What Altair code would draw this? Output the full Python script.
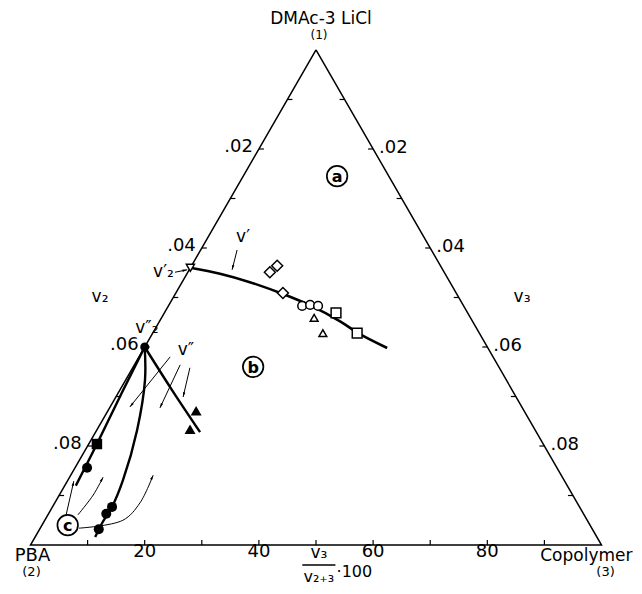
import math
import altair as alt
import pandas as pd

# ---------------- values ----------------
# composition coordinates: pct = v3/(v2+v3)*100 (bottom scale), tot = v2+v3 (side scales)
bin1_pct = [0.0, 12.8, 25.3, 38.3, 48.0, 57.7, 62.9, 70.7]                 # binodal v'
bin1_tot = [0.0440, 0.0452, 0.0469, 0.0493, 0.0516, 0.0548, 0.0572, 0.0602]
bin2_pct = [0.0, 13.3, 23.7]                                              # binodal v''
bin2_tot = [0.0600, 0.0687, 0.0772]
lineA_pct = [0.0, 0.9, 1.8, 2.2]
lineA_tot = [0.0600, 0.0693, 0.0796, 0.0880]
lineB_pct = [0.0, 5.1, 9.2, 11.1, 11.3, 10.8, 10.7]
lineB_tot = [0.0600, 0.0667, 0.0768, 0.0869, 0.0923, 0.0956, 0.0984]

open_diamond_pct = [32.0, 34.4, 38.2]
open_diamond_tot = [0.0449, 0.0436, 0.0491]
open_circle_pct = [45.3, 48.0, 50.7]
open_circle_tot = [0.0517, 0.0515, 0.0517]
open_triangle_pct = [49.4, 52.1]
open_triangle_tot = [0.0541, 0.0572]
open_square_pct = [56.6, 62.6]
open_square_tot = [0.0531, 0.0572]
filled_triangle_pct = [21.2, 21.2]
filled_triangle_tot = [0.0729, 0.0766]
filled_square_pct = [1.8]
filled_square_tot = [0.0796]
filled_circle_pct = [2.5, 11.3, 10.8, 10.7]
filled_circle_tot = [0.0844, 0.0923, 0.0937, 0.0968]
v2p_pct, v2p_tot = [0.0], [0.0440]      # v2'
v2pp_pct, v2pp_tot = [0.0], [0.0600]    # v2''

# arrows (tail ... head)
arrow_v1 = ([15.8, 16.9], [0.0404, 0.0444])
arrow_v2p = ([-5.0, -0.8], [0.0449, 0.0444])
arrow_v2a = ([8.8, 4.8], [0.0620, 0.0721])
arrow_v2b = ([12.6, 12.2], [0.0636, 0.0723])
arrow_v2c = ([15.6, 16.8], [0.0642, 0.0701])
arrow_c1 = ([3.4, 1.3], [0.0939, 0.0871])
arrow_c2 = ([5.6, 6.6, 6.8], [0.0939, 0.0899, 0.0863])
arrow_c3 = ([7.0, 14.4, 16.3, 16.8], [0.0966, 0.0950, 0.0915, 0.0859])

side_ticks = [0.01, 0.02, 0.03, 0.04, 0.05, 0.06, 0.07, 0.08, 0.09]
side_labels = [".02", ".04", ".06", ".08"]
side_label_vals = [0.02, 0.04, 0.06, 0.08]
bottom_ticks = [10, 20, 30, 40, 50, 60, 70, 80, 90]
bottom_labels = ["20", "40", "60", "80"]
bottom_label_vals = [20, 40, 60, 80]

FONT = "DejaVu Sans"

# ---------------- frame ----------------
W, H = 626, 578
X_DOM = [-0.05394, 0.05569]
Y_DOM = [-0.10828, 0.00848]
KX = W / (X_DOM[1] - X_DOM[0])
KY = H / (Y_DOM[1] - Y_DOM[0])


def tern(pcts, tots, **cols):
    df = pd.DataFrame({"pct": list(pcts), "tot": list(tots)})
    df["X"] = df["tot"] * (df["pct"] / 100.0 - 0.5)
    df["Y"] = -df["tot"]
    df["i"] = range(len(df))
    for k, v in cols.items():
        df[k] = v
    return df


xs = alt.Scale(domain=X_DOM, nice=False, zero=False)
ys = alt.Scale(domain=Y_DOM, nice=False, zero=False)


def XE(f="X"):
    return alt.X(f + ":Q", scale=xs, axis=None)


def YE(f="Y"):
    return alt.Y(f + ":Q", scale=ys, axis=None)


layers = []

# triangle edges
edges = tern([50, 0, 100, 50], [0.0, 0.1, 0.1, 0.0])
layers.append(alt.Chart(edges).mark_line(color="black", strokeWidth=1.5).encode(
    x=XE(), y=YE(), order="i:Q"))

# ticks
lt = tern([0] * len(side_ticks), side_ticks)
lt["X2"] = lt["X"] + 5 / KX
lt["Y2"] = lt["Y"]
rt = tern([100] * len(side_ticks), side_ticks)
rt["X2"] = rt["X"] - 5 / KX
rt["Y2"] = rt["Y"]
bt = tern(bottom_ticks, [0.1] * len(bottom_ticks))
bt["X2"] = bt["X"]
bt["Y2"] = bt["Y"] + 5 / KY
ticks = pd.concat([lt, rt, bt], ignore_index=True)
layers.append(alt.Chart(ticks).mark_rule(color="black", strokeWidth=1.2).encode(
    x=XE(), y=YE(), x2="X2:Q", y2="Y2:Q"))

# phase boundary curves
for pc, tt, sw in [(bin1_pct, bin1_tot, 2.6), (bin2_pct, bin2_tot, 2.4),
                   (lineA_pct, lineA_tot, 2.4), (lineB_pct, lineB_tot, 2.4)]:
    layers.append(alt.Chart(tern(pc, tt)).mark_line(
        color="black", strokeWidth=sw, interpolate="catmull-rom").encode(
        x=XE(), y=YE(), order="i:Q"))

# arrows
arrows = [arrow_v1, arrow_v2p, arrow_v2a, arrow_v2b, arrow_v2c, arrow_c1, arrow_c2, arrow_c3]
adfs, heads = [], []
for k, (pc, tt) in enumerate(arrows):
    d = tern(pc, tt, aid=k)
    adfs.append(d)
    a, b = d.iloc[-2], d.iloc[-1]
    dxp = (b["X"] - a["X"]) * KX
    dyp = -(b["Y"] - a["Y"]) * KY
    ang = math.degrees(math.atan2(dxp, -dyp)) % 360
    heads.append({"X": b["X"], "Y": b["Y"], "ang": ang})
adf = pd.concat(adfs, ignore_index=True)
layers.append(alt.Chart(adf).mark_line(color="black", strokeWidth=1.0, interpolate="catmull-rom").encode(
    x=XE(), y=YE(), detail="aid:N", order="i:Q"))
layers.append(alt.Chart(pd.DataFrame(heads)).mark_point(
    shape="M0,0L-0.38,1.5L0.38,1.5Z", size=40, filled=True, color="black", opacity=1).encode(
    x=XE(), y=YE(), angle=alt.Angle("ang:Q", scale=None)))


def pts(pc, tt, shape, size, filled, sw=1.5):
    if filled:
        mk = alt.Chart(tern(pc, tt)).mark_point(shape=shape, size=size, filled=True,
                                                color="black", opacity=1)
    else:
        mk = alt.Chart(tern(pc, tt)).mark_point(shape=shape, size=size, filled=True,
                                                fill="white", stroke="black",
                                                strokeWidth=sw, opacity=1)
    return mk.encode(x=XE(), y=YE())


layers += [
    pts(open_diamond_pct, open_diamond_tot, "diamond", 120, False),
    pts(open_circle_pct, open_circle_tot, "circle", 75, False),
    pts(open_triangle_pct, open_triangle_tot, "triangle-up", 60, False),
    pts(open_square_pct, open_square_tot, "square", 95, False),
    pts(v2p_pct, v2p_tot, "triangle-down", 65, False),
    pts(filled_triangle_pct, filled_triangle_tot, "triangle-up", 120, True),
    pts(filled_square_pct, filled_square_tot, "square", 110, True),
    pts(filled_circle_pct, filled_circle_tot, "circle", 100, True),
    pts(v2pp_pct, v2pp_tot, "circle", 80, True),
]

# circled region letters
reg_txt = ["a", "b", "c"]
reg_pct = [64.5, 32.8, 4.7]
reg_tot = [0.0255, 0.0640, 0.0960]
rdf = tern(reg_pct, reg_tot, t=reg_txt)
layers.append(alt.Chart(rdf).mark_point(shape="circle", size=420, filled=True, fill="white",
                                        stroke="black", strokeWidth=1.7, opacity=1).encode(
    x=XE(), y=YE()))
layers.append(alt.Chart(rdf).mark_text(font=FONT, fontSize=16, fontWeight="bold", color="black",
                                       baseline="middle", dy=1).encode(
    x=XE(), y=YE(), text="t:N"))


def txt(df, size=18, align="center", dx=0, dy=0):
    return alt.Chart(df).mark_text(font=FONT, fontSize=size, align=align, baseline="middle",
                                   dx=dx, dy=dy, color="black").encode(
        x=XE(), y=YE(), text="t:N")


# side and bottom tick labels
layers.append(txt(tern([0] * 4, side_label_vals, t=side_labels), align="right", dx=-6, dy=-2))
layers.append(txt(tern([100] * 4, side_label_vals, t=side_labels), align="left", dx=6, dy=-1))
layers.append(txt(tern(bottom_label_vals, [0.1] * 4, t=bottom_labels), dy=7))

# vertex labels
layers.append(txt(tern([50], [0.0], t=["DMAc-3 LiCl"]), size=17, dx=5, dy=-31))
layers.append(txt(tern([50], [0.0], t=["(1)"]), size=12, dx=3, dy=-15))
layers.append(txt(tern([0], [0.1], t=["PBA"]), size=18, dx=2, dy=11))
layers.append(txt(tern([0], [0.1], t=["(2)"]), size=13, dx=1, dy=27))
layers.append(txt(tern([100], [0.1], t=["Copolymer"]), size=17, align="right", dx=31, dy=11))
layers.append(txt(tern([100], [0.1], t=["(3)"]), size=13, dx=4, dy=27))

# axis names and curve labels
ann_txt = ["v₂", "v₃", "v′₂", "v″₂", "v′", "v″"]
ann_pct = [-25.8, 122.3, -9.5, -2.7, 16.2, 12.4]
ann_tot = [0.0499, 0.0499, 0.0449, 0.0562, 0.0378, 0.0606]
layers.append(txt(tern(ann_pct, ann_tot, t=ann_txt), size=17))

# bottom-axis fraction title
layers.append(txt(tern([50.5], [0.1], t=["v₃"]), size=17, dy=8))
layers.append(txt(tern([50.5], [0.1], t=["v₂₊₃"]), size=16, dy=32))
layers.append(txt(tern([53.6], [0.1], t=["·100"]), size=16, align="left", dy=27))
fb = tern([47.6], [0.1])
fb["X2"] = tern([53.4], [0.1])["X"]
layers.append(alt.Chart(fb).mark_rule(color="black", strokeWidth=1.3, yOffset=20).encode(
    x=XE(), y=YE(), x2="X2:Q"))

chart = alt.layer(*layers).properties(
    width=W, height=H, autosize="none", padding=0, background="white"
).configure_view(stroke=None)

chart.save("out.html", embed_options={"renderer": "svg", "actions": False})
